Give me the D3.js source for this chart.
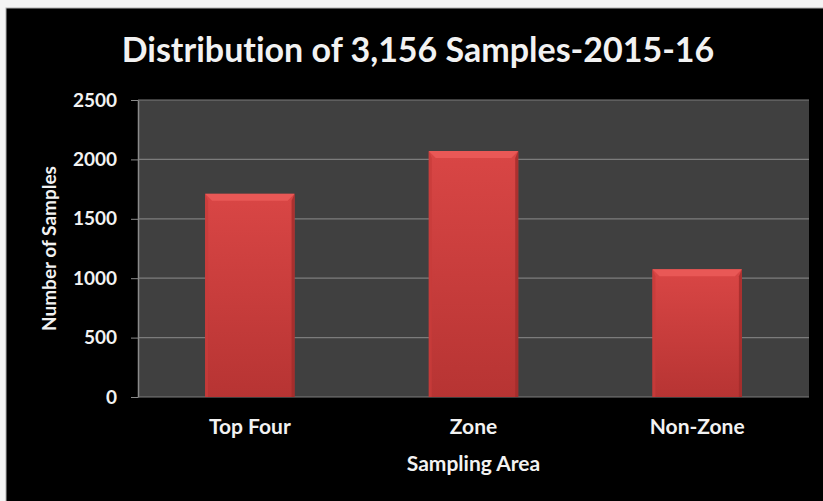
<!DOCTYPE html>
<meta charset="utf-8">
<style>
    body { margin: 0; background: #f4f4f4; }
    svg { display: block; }
    text { font-family: Lato, "Open Sans", sans-serif; font-weight: bold; fill: #f2f2f2; font-variant-ligatures: none; }
    .axis--y path { stroke: #8a8a8a; }
    .axis--y line { stroke: #8a8a8a; }
    .axis--x path, .axis--x line { display: none; }
</style>

<body>
    <svg width="823" height="501"></svg>
    <script src="https://d3js.org/d3.v7.min.js"></script>
    <script>
        var areas = ["Top Four", "Zone", "Non-Zone"];
        var samples = [1710, 2070, 1075];
        var yTicks = [0, 500, 1000, 1500, 2000, 2500];

        var svg = d3.select("svg"),
            margin = { top: 100, right: 14, bottom: 104, left: 138 },
            width = +svg.attr("width") - margin.left - margin.right,
            height = +svg.attr("height") - margin.top - margin.bottom;

        // black chart frame
        svg.append("rect")
            .attr("x", 6).attr("y", 8)
            .attr("width", 823).attr("height", 501)
            .attr("fill", "#000")
            .attr("stroke", "#b0b0b0");

        var defs = svg.append("defs");
        var grad = defs.append("linearGradient")
            .attr("id", "barFill")
            .attr("x1", 0).attr("y1", 0).attr("x2", 0).attr("y2", 1);
        grad.append("stop").attr("offset", "0%").attr("stop-color", "#d94645");
        grad.append("stop").attr("offset", "100%").attr("stop-color", "#b73433");

        var x = d3.scaleBand().domain(areas).range([0, width])
            .paddingInner(0.6).paddingOuter(0.3);
        var y = d3.scaleLinear().domain([0, 2500]).range([height, 0]);

        var g = svg.append("g")
            .attr("transform", "translate(" + margin.left + "," + margin.top + ")");

        g.append("rect")
            .attr("width", width).attr("height", height)
            .attr("fill", "#404040");

        g.selectAll(".grid")
            .data(yTicks)
            .enter().append("line")
            .attr("class", "grid")
            .attr("x1", 0).attr("x2", width)
            .attr("y1", function (d) { return y(d); })
            .attr("y2", function (d) { return y(d); })
            .attr("stroke", "#7c7c7c")
            .attr("stroke-width", 1.2);

        var yAxis = g.append("g")
            .attr("class", "axis axis--y")
            .call(d3.axisLeft(y).tickValues(yTicks).tickFormat(d3.format("d"))
                .tickSize(7).tickPadding(14).tickSizeOuter(0));
        yAxis.selectAll("text")
            .style("font-size", "19px")
            .attr("fill", "#f2f2f2");
        yAxis.select(".domain").attr("stroke-width", 1.5);

        // bars with a bevel
        var bars = g.selectAll(".bar")
            .data(samples)
            .enter().append("g")
            .attr("class", "bar");

        var bev = 7;
        bars.append("rect")
            .attr("x", function (d, i) { return x(areas[i]); })
            .attr("y", function (d) { return y(d); })
            .attr("width", x.bandwidth())
            .attr("height", function (d) { return height - y(d); })
            .attr("fill", "url(#barFill)");

        // top bevel
        bars.append("path")
            .attr("fill", "#e95856")
            .attr("d", function (d, i) {
                var x0 = x(areas[i]), x1 = x0 + x.bandwidth(), y0 = y(d);
                return "M" + x0 + "," + y0 + "L" + x1 + "," + y0 +
                    "L" + (x1 - bev) + "," + (y0 + bev) + "L" + (x0 + bev) + "," + (y0 + bev) + "Z";
            });
        // left bevel
        bars.append("path")
            .attr("fill", "#c83c3b")
            .attr("opacity", 0.8)
            .attr("d", function (d, i) {
                var x0 = x(areas[i]), y0 = y(d);
                return "M" + x0 + "," + y0 + "L" + (x0 + 3) + "," + (y0 + bev) +
                    "L" + (x0 + 3) + "," + height + "L" + x0 + "," + height + "Z";
            });
        // right bevel
        bars.append("path")
            .attr("fill", "#a02c2b")
            .attr("opacity", 0.8)
            .attr("d", function (d, i) {
                var x1 = x(areas[i]) + x.bandwidth(), y0 = y(d);
                return "M" + x1 + "," + y0 + "L" + (x1 - 3) + "," + (y0 + bev) +
                    "L" + (x1 - 3) + "," + height + "L" + x1 + "," + height + "Z";
            });

        var xAxis = g.append("g")
            .attr("class", "axis axis--x")
            .attr("transform", "translate(0," + height + ")")
            .call(d3.axisBottom(x).tickSize(0).tickPadding(22));
        xAxis.selectAll("text")
            .style("font-size", "21px")
            .attr("fill", "#f2f2f2");

        // titles
        svg.append("text")
            .attr("x", 418).attr("y", 62)
            .attr("text-anchor", "middle")
            .style("font-size", "34px")
            .text("Distribution of 3,156 Samples-2015-16");

        svg.append("text")
            .attr("x", margin.left + width / 2).attr("y", 471)
            .attr("text-anchor", "middle")
            .style("font-size", "21px")
            .text("Sampling Area");

        svg.append("text")
            .attr("transform", "translate(56," + (margin.top + height / 2) + ") rotate(-90)")
            .attr("text-anchor", "middle")
            .style("font-size", "19px")
            .text("Number of Samples");
    </script>
</body>
